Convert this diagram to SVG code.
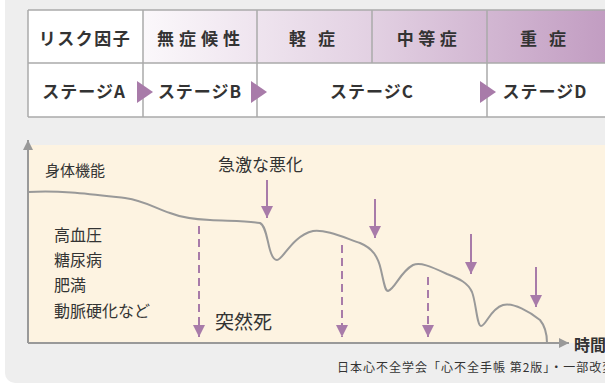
<svg xmlns="http://www.w3.org/2000/svg" width="605" height="385" viewBox="0 0 605 385">
<defs>
<linearGradient id="hdr" gradientUnits="userSpaceOnUse" x1="143" y1="0" x2="605" y2="0">
<stop offset="0" stop-color="#fbf8fb"/>
<stop offset="0.5" stop-color="#e2d0e2"/>
<stop offset="1" stop-color="#c29dc2"/>
</linearGradient>
<marker id="ah" viewBox="0 0 10 10" refX="10" refY="5" markerWidth="6" markerHeight="6" orient="auto" markerUnits="strokeWidth">
<path d="M0,0 L10,5 L0,10 Z" fill="#a87ba9"/>
</marker>
<marker id="ax" viewBox="0 0 10 10" refX="10" refY="5" markerWidth="5" markerHeight="5" orient="auto" markerUnits="strokeWidth">
<path d="M0,0 L10,5 L0,10 Z" fill="#999999"/>
</marker>
</defs>
<style>
text{font-family:"Noto Sans CJK JP","Noto Sans",sans-serif;fill:#333333}
.th{font-size:17px;font-weight:700;text-anchor:middle}
.st{font-size:17px;font-weight:700;text-anchor:middle}
.lbl{font-size:16px}
.grid{stroke:#aaaaaa;stroke-width:1.5;fill:none}
.tri{fill:#a87ba9}
.arr{stroke:#a87ba9;stroke-width:2;fill:none;marker-end:url(#ah)}
.dash{stroke:#a87ba9;stroke-width:2;fill:none;stroke-dasharray:8 5;marker-end:url(#ah)}
.axis{stroke:#999999;stroke-width:2;fill:none;marker-end:url(#ax)}
.curve{stroke:#999999;stroke-width:2;fill:none}
</style>
<rect x="5" y="-12" width="630" height="395" rx="10" fill="#eeeeee"/>

<g id="table">
<rect x="28" y="10" width="600" height="107" fill="#ffffff"/>
<rect x="143" y="10" width="485" height="53" fill="url(#hdr)"/>
<path class="grid" d="M28,10 H628 M28,63 H628 M28,117 H628 M28,10 V117 M143,10 V117 M257,10 V117 M372,10 V63 M487,10 V117"/>
</g>

<g id="header">
<text class="th" x="85" y="45" letter-spacing="1.5">リスク因子</text>
<text class="th" x="201" y="45" letter-spacing="5">無症候性</text>
<text class="th" x="314" y="45" letter-spacing="4">軽 症</text>
<text class="th" x="429" y="45" letter-spacing="4.5">中等症</text>
<text class="th" x="545" y="45" letter-spacing="4">重 症</text>
</g>

<g id="stageA"><text class="st" x="84" y="98" letter-spacing="1">ステージA</text></g>
<g id="stageB"><text class="st" x="200" y="98" letter-spacing="1">ステージB</text></g>
<g id="stageC"><text class="st" x="372" y="98" letter-spacing="1">ステージC</text></g>
<g id="stageD"><text class="st" x="545" y="98" letter-spacing="1">ステージD</text></g>
<g id="triangles">
<path class="tri" d="M137,81 L153,92 L137,103 Z"/>
<path class="tri" d="M251,81 L267,92 L251,103 Z"/>
<path class="tri" d="M480,81 L496,92 L480,103 Z"/>
</g>

<g id="chart">
<rect x="28" y="145" width="600" height="198" fill="#fdf3e1"/>
</g>

<g id="labels">
<text x="45" y="176" font-size="15">身体機能</text>
<text x="218" y="171" font-size="17">急激な悪化</text>
<text class="lbl" x="54" y="241">高血圧</text>
<text class="lbl" x="54" y="266">糖尿病</text>
<text class="lbl" x="54" y="291">肥満</text>
<text class="lbl" x="54" y="317">動脈硬化など</text>
<text x="215" y="329" font-size="19">突然死</text>
<text x="574" y="351" font-size="16" font-weight="700">時間</text>
<text x="337" y="372" font-size="12" letter-spacing="1">日本心不全学会「心不全手帳 第2版」・一部改変</text>
</g>

<g id="connectors">
<path class="axis" d="M28,343 V140"/>
<path class="axis" d="M28,343 H569"/>
<path class="curve" d="M28,192 C60,190 90,194 125,198 C145,201 155,208 170,213 C180,217 190,219 210,220 C230,221 250,221 260,223 C266,226 267,240 270,250 C272,257 274,260 277,260 C283,260 292,236 313,231 C325,229 345,238 360,243 C372,248 378,256 381,270 C384,283 385,291 388,291 C395,289 400,272 413,265 C420,262 430,266 447,274 C460,279 468,283 472,292 C476,302 477,326 481,326 C486,326 490,309 503,305 C513,302 530,312 540,320 C545,326 547,335 547,343"/>
<path class="arr" d="M267,180 V218"/>
<path class="arr" d="M375,199 V238"/>
<path class="arr" d="M471,234 V274"/>
<path class="arr" d="M536,267 V307"/>
<path class="dash" d="M199,226 V337"/>
<path class="dash" d="M342,245 V337"/>
<path class="dash" d="M428,277 V337"/>
</g>
</svg>
